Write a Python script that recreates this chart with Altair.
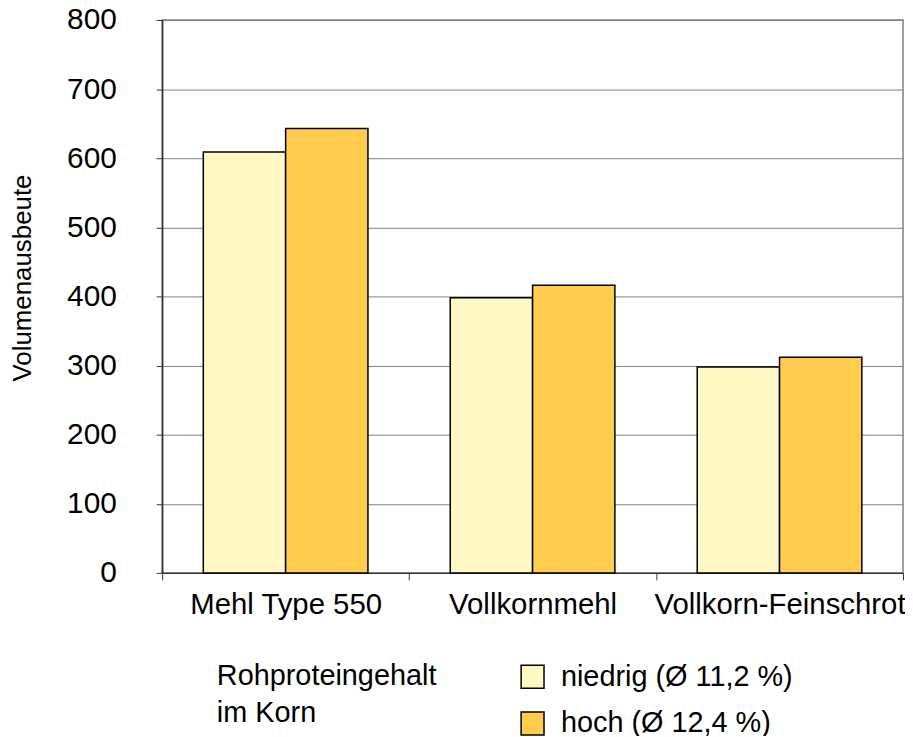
import altair as alt
import pandas as pd

categories = ["Mehl Type 550", "Vollkornmehl", "Vollkorn-Feinschrot"]
series_names = ["niedrig (Ø 11,2 %)", "hoch (Ø 12,4 %)"]
niedrig = [609, 398, 298]
hoch = [643, 416, 312]
y_ticks = [0, 100, 200, 300, 400, 500, 600, 700, 800]
colors = ["#FFF8C4", "#FFCC4E"]

rows = []
for i, c in enumerate(categories):
    rows.append({"Kategorie": c, "Gruppe": series_names[0], "Wert": niedrig[i]})
    rows.append({"Kategorie": c, "Gruppe": series_names[1], "Wert": hoch[i]})
df = pd.DataFrame(rows)

FONT = "Liberation Sans"

chart = alt.Chart(df).mark_bar(stroke="black", strokeWidth=1.5).encode(
    x=alt.X(
        "Kategorie:N",
        sort=categories,
        scale=alt.Scale(paddingInner=0, paddingOuter=0),
        axis=alt.Axis(
            title=None, labelAngle=0, labelFontSize=29.5, labelFont=FONT,
            labelColor="black", tickBand="extent", tickSize=7, labelLimit=0,
            tickColor="#333333", domainColor="#333333", domainWidth=1.5,
            labelPadding=11, grid=False,
        ),
    ),
    xOffset=alt.XOffset(
        "Gruppe:N", sort=series_names,
        scale=alt.Scale(paddingInner=0, paddingOuter=0.5),
    ),
    y=alt.Y(
        "Wert:Q",
        scale=alt.Scale(domain=[0, 800], nice=False),
        axis=alt.Axis(
            title="Volumenausbeute", values=y_ticks, labelFontSize=30,
            labelFont=FONT, labelColor="black", labelPadding=40, tickSize=6,
            tickColor="#333333", domainColor="#333333", domainWidth=1.5,
            grid=True, gridColor="#808080", gridWidth=1,
            titleFont=FONT, titleFontSize=26, titleFontWeight="normal",
            titleColor="black", titleX=-140, titleY=259,
            titleAlign="center", titleBaseline="middle", titleAngle=-90,
        ),
    ),
    color=alt.Color(
        "Gruppe:N", sort=series_names,
        scale=alt.Scale(domain=series_names, range=colors),
        legend=alt.Legend(
            title=["Rohproteingehalt", "im Korn"],
            orient="none", legendX=55, legendY=646, direction="vertical",
            titleOrient="left", titleAnchor="start", titleBaseline="top",
            titleFont=FONT, titleFontSize=29, titleFontWeight="normal",
            titleColor="black", titleLineHeight=37, titlePadding=82,
            titleLimit=0, labelLimit=0,
            labelFont=FONT, labelFontSize=29, labelColor="black",
            labelOffset=14, symbolType="square", symbolSize=529,
            symbolStrokeColor="black", symbolStrokeWidth=1.5,
            symbolOpacity=1, rowPadding=17, padding=0,
        ),
    ),
).properties(
    width=745, height=556,
    autosize=alt.AutoSizeParams(type="none"),
    padding={"left": 155, "top": 10, "right": 2, "bottom": 162},
).configure_view(
    stroke="#808080", strokeWidth=1.5
)

chart.save("out.html", embed_options={"renderer": "svg", "actions": False})
